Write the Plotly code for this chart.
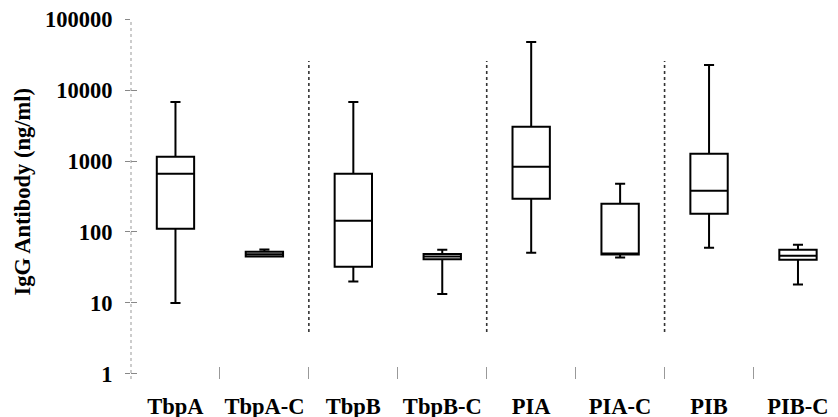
import plotly.graph_objects as go

categories = ["TbpA", "TbpA-C", "TbpB", "TbpB-C", "PIA", "PIA-C", "PIB", "PIB-C"]
lower_whisker = [10, 45, 20, 13.4, 51, 43.6, 60, 18.2]
q1_values = [111, 45, 32.5, 41.2, 294, 48, 181, 40.8]
median_values = [661, 48.5, 144, 45, 830, 48, 381, 46.4]
q3_values = [1146, 52.8, 661, 49.1, 3030, 250, 1262, 56]
upper_whisker = [6800, 56.9, 6800, 56.4, 47500, 477, 22500, 66]

y_tick_values = [1, 10, 100, 1000, 10000, 100000]
y_tick_labels = ["1", "10", "100", "1000", "10000", "100000"]

separator_positions = [1.5, 3.5, 5.5]
separator_span = [3.9, 25600]

positions = list(range(len(categories)))
FONT = dict(family="Liberation Serif", size=22.5, color="black", weight="bold")

fig = go.Figure()

for xs in separator_positions:
    fig.add_trace(go.Scatter(
        x=[xs, xs], y=separator_span, mode="lines",
        line=dict(color="#333333", width=1.6, dash="dot"),
        showlegend=False, hoverinfo="skip"))

fig.add_trace(go.Box(
    x=positions,
    lowerfence=lower_whisker, q1=q1_values, median=median_values,
    q3=q3_values, upperfence=upper_whisker,
    boxpoints=False, width=0.42, whiskerwidth=0.27,
    line=dict(color="black", width=2), fillcolor="rgba(255,255,255,0)",
    showlegend=False))

fig.update_layout(
    width=830, height=409,
    margin=dict(l=123, r=0, t=11, b=38),
    paper_bgcolor="white", plot_bgcolor="white",
    xaxis=dict(
        range=[-0.5, 7.45], tickmode="array", tickvals=positions, ticktext=categories,
        ticks="", showgrid=False, zeroline=False, showline=False,
        tickfont=FONT, automargin=False, ticklabelstandoff=11,
        ticklabeloverflow="allow",
        minor=dict(tickmode="array", tickvals=[p + 0.5 for p in positions[:-1]],
                   ticks="inside", ticklen=12, tickcolor="#999999", tickwidth=1,
                   showgrid=False),
    ),
    yaxis=dict(
        type="log", range=[-0.0706, 5], tickmode="array", tickvals=y_tick_values,
        ticktext=y_tick_labels, ticks="outside", ticklen=5, tickcolor="#888888",
        tickwidth=1, showgrid=False, zeroline=False, showline=False,
        tickfont=FONT, automargin=False, ticklabelstandoff=8,
        ticklabeloverflow="allow",
    ),
    yaxis2=dict(
        type="log", range=[-0.0706, 5], overlaying="y", side="left", anchor="x",
        tickmode="array", tickvals=y_tick_values, ticks="inside", ticklen=6,
        tickcolor="#888888", tickwidth=1, showticklabels=False, showgrid=False,
        zeroline=False, showline=False,
    ),
    shapes=[dict(type="line", xref="paper", yref="paper", x0=0, x1=0, y0=0, y1=1,
                 line=dict(color="#999999", width=1, dash="dot"))],
    annotations=[dict(text="IgG Antibody (ng/ml)", xref="paper", yref="paper",
                      x=-0.154, y=0.521, xanchor="center", yanchor="middle",
                      textangle=-90, showarrow=False, font=FONT)],
)

# dummy trace to activate yaxis2
fig.add_trace(go.Scatter(x=[None], y=[None], yaxis="y2", showlegend=False, hoverinfo="skip"))

fig.write_html("out.html")
